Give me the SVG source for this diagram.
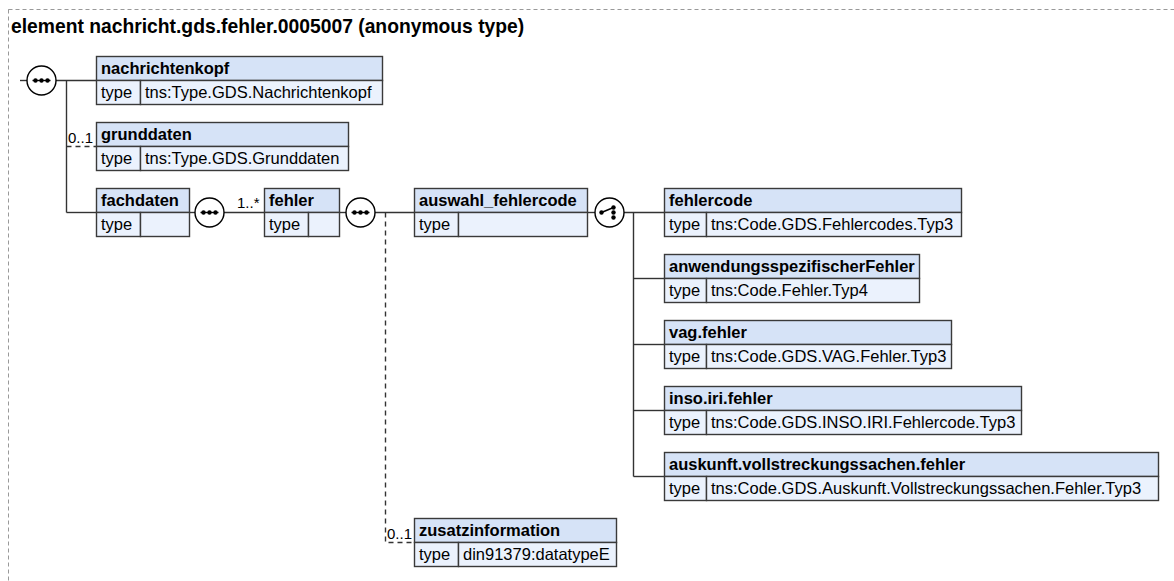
<svg xmlns="http://www.w3.org/2000/svg" width="1174" height="581" viewBox="0 0 1174 581">
<style>
.frame{fill:none;stroke:#999;stroke-width:1;stroke-dasharray:4,3}
.title{font:bold 19.3px 'Liberation Sans',Arial,sans-serif;fill:#000}
.hd{fill:#d6e3f7;stroke:#3a3a3a;stroke-width:1.4}
.rw{fill:#ebf2fd;stroke:#3a3a3a;stroke-width:1.4}
.b{font:bold 16.5px 'Liberation Sans',Arial,sans-serif;fill:#000}
.n{font:16.5px 'Liberation Sans',Arial,sans-serif;fill:#000}
.c{font:15px 'Liberation Sans',Arial,sans-serif;fill:#000}
.ln{fill:none;stroke:#333;stroke-width:1.4}
.dl{fill:none;stroke:#333;stroke-width:1.4;stroke-dasharray:5,4}
.ci{fill:#fff;stroke:#000;stroke-width:1.4}
.dot{fill:#000}
</style>
<defs>
<g id="seq">
<circle class="ci" r="14.5"/>
<line x1="-9" y1="0" x2="9" y2="0" stroke="#000" stroke-width="1.4"/>
<circle class="dot" cx="-6" r="2.2"/><circle class="dot" cx="0" r="2.2"/><circle class="dot" cx="6" r="2.2"/>
</g>
<g id="cho">
<circle class="ci" r="14.5"/>
<line x1="-8" y1="0" x2="4" y2="-5" stroke="#000" stroke-width="1.4"/>
<circle class="dot" cx="-8" cy="0" r="2.2"/><circle class="dot" cx="4" cy="-5" r="2.2"/><circle class="dot" cx="4" cy="0" r="2.2"/><circle class="dot" cx="4" cy="5" r="2.2"/>
</g>
</defs>
<rect class="frame" x="8.5" y="9.5" width="1180" height="600"/>
<text class="title" x="11" y="33">element nachricht.gds.fehler.0005007 (anonymous type)</text>

<g id="connectors">
<line class="ln" x1="20" y1="80.5" x2="27" y2="80.5"/>
<line class="ln" x1="56" y1="80.5" x2="96.5" y2="80.5"/>
<line class="ln" x1="66.5" y1="80.5" x2="66.5" y2="212.5"/>
<line class="dl" x1="66.5" y1="146.5" x2="96.5" y2="146.5"/>
<line class="ln" x1="66.5" y1="212.5" x2="96.5" y2="212.5"/>
<line class="ln" x1="190" y1="212.5" x2="195" y2="212.5"/>
<line class="ln" x1="224" y1="212.5" x2="264.5" y2="212.5"/>
<line class="ln" x1="340" y1="212.5" x2="346" y2="212.5"/>
<line class="ln" x1="375" y1="212.5" x2="414.5" y2="212.5"/>
<polyline class="dl" points="385.5,212.5 385.5,542.5 414.5,542.5"/>
<line class="ln" x1="588" y1="212.5" x2="595" y2="212.5"/>
<line class="ln" x1="624" y1="212.5" x2="664.5" y2="212.5"/>
<line class="ln" x1="633.5" y1="212.5" x2="633.5" y2="476.5"/>
<line class="ln" x1="633.5" y1="278.5" x2="664.5" y2="278.5"/>
<line class="ln" x1="633.5" y1="344.5" x2="664.5" y2="344.5"/>
<line class="ln" x1="633.5" y1="410.5" x2="664.5" y2="410.5"/>
<line class="ln" x1="633.5" y1="476.5" x2="664.5" y2="476.5"/>
<text class="c" x="68" y="143">0..1</text>
<text class="c" x="237" y="208">1..*</text>
<text class="c" x="387" y="539">0..1</text>
</g>

<g id="seq1"><use href="#seq" x="41.5" y="80.5"/></g>
<g id="seq2"><use href="#seq" x="209.5" y="212.5"/></g>
<g id="seq3"><use href="#seq" x="360.5" y="212.5"/></g>
<g id="choice1"><use href="#cho" x="609.5" y="212.5"/></g>

<g id="nachrichtenkopf">
<rect class="hd" x="96.5" y="56.5" width="286" height="24"/>
<rect class="rw" x="96.5" y="80.5" width="44" height="24"/>
<rect class="rw" x="140.5" y="80.5" width="242" height="24"/>
<text class="b" x="101" y="74">nachrichtenkopf</text>
<text class="n" x="101" y="98">type</text>
<text class="n" x="145" y="98">tns:Type.GDS.Nachrichtenkopf</text>
</g>
<g id="grunddaten">
<rect class="hd" x="96.5" y="122.5" width="252" height="24"/>
<rect class="rw" x="96.5" y="146.5" width="44" height="24"/>
<rect class="rw" x="140.5" y="146.5" width="208" height="24"/>
<text class="b" x="101" y="140">grunddaten</text>
<text class="n" x="101" y="164">type</text>
<text class="n" x="145" y="164">tns:Type.GDS.Grunddaten</text>
</g>
<g id="fachdaten">
<rect class="hd" x="96.5" y="188.5" width="93" height="24"/>
<rect class="rw" x="96.5" y="212.5" width="44" height="24"/>
<rect class="rw" x="140.5" y="212.5" width="49" height="24"/>
<text class="b" x="101" y="206">fachdaten</text>
<text class="n" x="101" y="230">type</text>
</g>
<g id="fehler">
<rect class="hd" x="264.5" y="188.5" width="75" height="24"/>
<rect class="rw" x="264.5" y="212.5" width="44" height="24"/>
<rect class="rw" x="308.5" y="212.5" width="31" height="24"/>
<text class="b" x="269" y="206">fehler</text>
<text class="n" x="269" y="230">type</text>
</g>
<g id="auswahl_fehlercode">
<rect class="hd" x="414.5" y="188.5" width="173" height="24"/>
<rect class="rw" x="414.5" y="212.5" width="44" height="24"/>
<rect class="rw" x="458.5" y="212.5" width="129" height="24"/>
<text class="b" x="419" y="206">auswahl_fehlercode</text>
<text class="n" x="419" y="230">type</text>
</g>
<g id="fehlercode">
<rect class="hd" x="664.5" y="188.5" width="297" height="24"/>
<rect class="rw" x="664.5" y="212.5" width="42" height="24"/>
<rect class="rw" x="706.5" y="212.5" width="255" height="24"/>
<text class="b" x="669" y="206">fehlercode</text>
<text class="n" x="669" y="230">type</text>
<text class="n" x="711" y="230">tns:Code.GDS.Fehlercodes.Typ3</text>
</g>
<g id="anwendungsspezifischerFehler">
<rect class="hd" x="664.5" y="254.5" width="255" height="24"/>
<rect class="rw" x="664.5" y="278.5" width="42" height="24"/>
<rect class="rw" x="706.5" y="278.5" width="213" height="24"/>
<text class="b" x="669" y="272">anwendungsspezifischerFehler</text>
<text class="n" x="669" y="296">type</text>
<text class="n" x="711" y="296">tns:Code.Fehler.Typ4</text>
</g>
<g id="vag.fehler">
<rect class="hd" x="664.5" y="320.5" width="287" height="24"/>
<rect class="rw" x="664.5" y="344.5" width="42" height="24"/>
<rect class="rw" x="706.5" y="344.5" width="245" height="24"/>
<text class="b" x="669" y="338">vag.fehler</text>
<text class="n" x="669" y="362">type</text>
<text class="n" x="711" y="362">tns:Code.GDS.VAG.Fehler.Typ3</text>
</g>
<g id="inso.iri.fehler">
<rect class="hd" x="664.5" y="386.5" width="357" height="24"/>
<rect class="rw" x="664.5" y="410.5" width="42" height="24"/>
<rect class="rw" x="706.5" y="410.5" width="315" height="24"/>
<text class="b" x="669" y="404">inso.iri.fehler</text>
<text class="n" x="669" y="428">type</text>
<text class="n" x="711" y="428">tns:Code.GDS.INSO.IRI.Fehlercode.Typ3</text>
</g>
<g id="auskunft.vollstreckungssachen.fehler">
<rect class="hd" x="664.5" y="452.5" width="494" height="24"/>
<rect class="rw" x="664.5" y="476.5" width="42" height="24"/>
<rect class="rw" x="706.5" y="476.5" width="452" height="24"/>
<text class="b" x="669" y="470">auskunft.vollstreckungssachen.fehler</text>
<text class="n" x="669" y="494">type</text>
<text class="n" x="711" y="494">tns:Code.GDS.Auskunft.Vollstreckungssachen.Fehler.Typ3</text>
</g>
<g id="zusatzinformation">
<rect class="hd" x="414.5" y="518.5" width="202" height="24"/>
<rect class="rw" x="414.5" y="542.5" width="44" height="24"/>
<rect class="rw" x="458.5" y="542.5" width="158" height="24"/>
<text class="b" x="419" y="536">zusatzinformation</text>
<text class="n" x="419" y="560">type</text>
<text class="n" x="463" y="560">din91379:datatypeE</text>
</g>
</svg>
